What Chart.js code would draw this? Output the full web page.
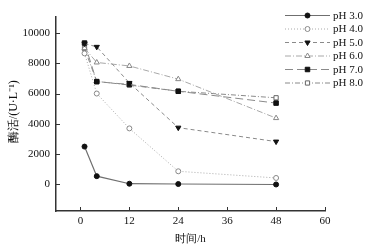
<!DOCTYPE html>
<html><head><meta charset="utf-8">
<script src="https://cdn.jsdelivr.net/npm/chart.js@4"></script>
<style>html,body{margin:0;padding:0;background:#fff}#w{width:378px;height:246px}</style>
</head><body><div id="w"><canvas id="c" width="378" height="246"></canvas></div>
<script>
const hours = [1, 4, 12, 24, 48];
const seriesNames = ['pH 3.0', 'pH 4.0', 'pH 5.0', 'pH 6.0', 'pH 7.0', 'pH 8.0'];
const ph30 = [2500, 550, 50, 30, 0];
const ph40 = [8650, 6000, 3700, 870, 430];
const ph50 = [9300, 9080, 6700, 3750, 2830];
const ph60 = [9000, 8050, 7820, 6950, 4380];
const ph70 = [9330, 6780, 6600, 6150, 5370];
const ph80 = [8970, 6800, 6560, 6150, 5720];
const xTicks = [0, 12, 24, 36, 48, 60];
const yTicks = [0, 2000, 4000, 6000, 8000, 10000];
const yTitle = '酶活/(U·L⁻¹)';

const FONT = 'Liberation Serif';
const styles = [
  {c:'#6f6f6f', w:1.2, d:[], ps:'circle', rot:0, bg:'#111', bc:'#111', r:2.5},
  {c:'#aaaaaa', w:1, d:[1,2], ps:'circle', rot:0, bg:'#fff', bc:'#888', r:2.5},
  {c:'#8a8a8a', w:1, d:[4,3], ps:'triangle', rot:180, bg:'#111', bc:'#111', r:3},
  {c:'#a8a8a8', w:1, d:[6,2,1,2], ps:'triangle', rot:0, bg:'#fff', bc:'#888', r:3},
  {c:'#8a8a8a', w:1, d:[8,4], ps:'rect', rot:0, bg:'#111', bc:'#111', r:3.2},
  {c:'#8a8a8a', w:1, d:[5,2,1,2], ps:'rect', rot:0, bg:'#fff', bc:'#666', r:3}
];
const values = [ph30, ph40, ph50, ph60, ph70, ph80];
const datasets = values.map((v, i) => ({
  label: seriesNames[i],
  data: v.map((y, k) => ({x: hours[k], y})),
  borderColor: styles[i].c, borderWidth: styles[i].w, borderDash: styles[i].d,
  pointStyle: styles[i].ps, pointRotation: styles[i].rot, pointRadius: styles[i].r,
  pointBackgroundColor: styles[i].bg, pointBorderColor: styles[i].bc, pointBorderWidth: 1,
  tension: 0, fill: false
}));

const innerTicks = {
  id: 'innerTicks',
  afterDraw(chart) {
    const ctx = chart.ctx, x = chart.scales.x, y = chart.scales.y, a = chart.chartArea;
    ctx.save();
    ctx.strokeStyle = '#333'; ctx.lineWidth = 1;
    xTicks.forEach(t => { const px = Math.round(x.getPixelForValue(t)) + 0.5; ctx.beginPath(); ctx.moveTo(px, a.bottom); ctx.lineTo(px, a.bottom - 4); ctx.stroke(); });
    yTicks.forEach(t => { const py = Math.round(y.getPixelForValue(t)) + 0.5; ctx.beginPath(); ctx.moveTo(a.left, py); ctx.lineTo(a.left + 4, py); ctx.stroke(); });
    // y title
    ctx.save();
    ctx.translate(14, y.getPixelForValue(4800));
    ctx.rotate(-Math.PI / 2);
    ctx.fillStyle = '#111'; ctx.font = '12px "' + FONT + '"'; ctx.textAlign = 'center'; ctx.textBaseline = 'middle';
    ctx.fillText(yTitle, 0, 0);
    ctx.restore();
    // legend
    const lx0 = a.right - 40, lx1 = a.right + 5, ty = a.top - 1.5;
    chart.data.datasets.forEach((ds, i) => {
      const yy = ty + i * 13.5;
      ctx.save();
      ctx.strokeStyle = ds.borderColor; ctx.lineWidth = ds.borderWidth; ctx.setLineDash(ds.borderDash);
      ctx.beginPath(); ctx.moveTo(lx0, yy); ctx.lineTo(lx1, yy); ctx.stroke();
      ctx.setLineDash([]);
      ctx.fillStyle = ds.pointBackgroundColor; ctx.strokeStyle = ds.pointBorderColor; ctx.lineWidth = 1;
      Chart.helpers.drawPoint(ctx, {pointStyle: ds.pointStyle, rotation: ds.pointRotation, radius: ds.pointRadius, borderWidth: 1}, (lx0 + lx1) / 2, yy);
      ctx.fillStyle = '#111'; ctx.font = '11px "' + FONT + '"'; ctx.textBaseline = 'middle'; ctx.textAlign = 'left';
      ctx.fillText(ds.label, lx1 + 3, yy + 0.5);
      ctx.restore();
    });
    ctx.restore();
  }
};

new Chart(document.getElementById('c'), {
  type: 'line',
  data: { datasets },
  plugins: [innerTicks],
  options: {
    responsive: false, animation: false, devicePixelRatio: 1,
    layout: { padding: { top: 17, right: 53, left: 0, bottom: 0 } },
    plugins: { legend: { display: false }, tooltip: { enabled: false } },
    scales: {
      x: {
        type: 'linear', min: -6, max: 60,
        afterBuildTicks: s => { s.ticks = xTicks.map(v => ({value: v})); },
        afterFit: s => { s.height = 35; },
        grid: { display: false, drawTicks: false },
        border: { display: true, color: '#333', width: 1.5 },
        ticks: { color: '#111', font: { family: FONT, size: 11 }, padding: 4, maxRotation: 0, callback: v => String(v) },
        title: { display: true, text: '时间/h', color: '#111', font: { family: FONT, size: 11 }, padding: { top: 2, bottom: 0 } }
      },
      y: {
        type: 'linear', min: -1750, max: 11050,
        afterBuildTicks: s => { s.ticks = yTicks.map(v => ({value: v})); },
        afterFit: s => { s.width = 56; },
        grid: { display: false, drawTicks: false },
        border: { display: true, color: '#333', width: 1.5 },
        ticks: { color: '#111', font: { family: FONT, size: 11 }, padding: 6, callback: v => String(v) },
        title: { display: false }
      }
    }
  }
});
</script></body></html>
